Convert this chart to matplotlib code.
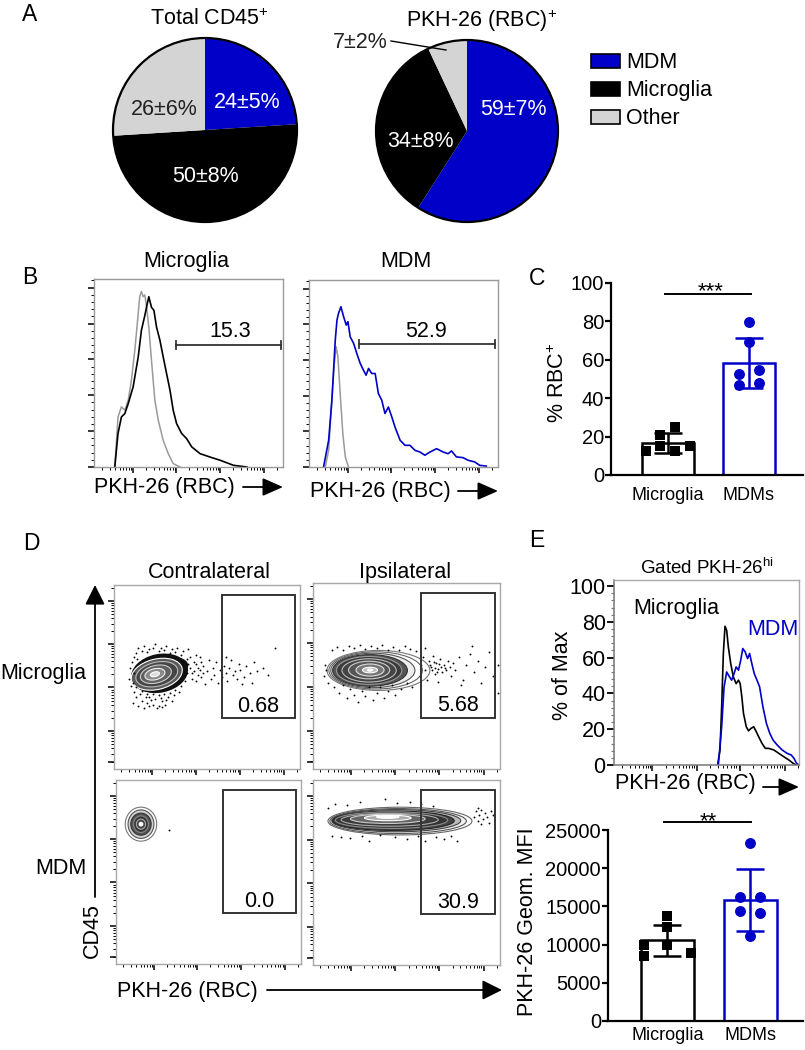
import numpy as np
import matplotlib
matplotlib.use('Agg')
import matplotlib.pyplot as plt
from matplotlib.patches import Ellipse, Rectangle, Circle

plt.rcParams['font.family'] = ['Liberation Sans', 'DejaVu Sans']
plt.rcParams['mathtext.fontset'] = 'custom'
plt.rcParams['mathtext.rm'] = 'Liberation Sans'
plt.rcParams['mathtext.it'] = 'Liberation Sans:italic'
plt.rcParams['mathtext.bf'] = 'Liberation Sans:bold'

# ---------------- data ----------------
PIE_CATEGORIES = ['MDM', 'Microglia', 'Other']
PIE1_MEAN = [24, 50, 26]
PIE1_SD = [5, 8, 6]
PIE2_MEAN = [59, 34, 7]
PIE2_SD = [7, 8, 2]

# Panel B histograms (x: % of axis width, y: % of axis height)
B1_X_BLACK = [11.0, 12.7, 14.5, 16.3, 18.1, 20.7, 23.4, 25.1, 26.9, 27.8, 29.0, 30.4, 31.7, 33.1,
              34.9, 36.6, 38.4, 40.2, 41.9, 43.7, 46.4, 49.0, 51.7, 56.1, 61.4, 66.7, 73.8, 80.9]
B1_Y_BLACK = [0, 17.8, 26.6, 28.4, 33.7, 42.6, 58.6, 72.8, 80.6, 85.0, 90.6, 85.0, 83.3, 74.4,
              67.3, 58.6, 49.7, 40.9, 30.2, 23.1, 17.8, 15.1, 10.7, 7.1, 5.3, 3.6, 0.9, 0]
B1_X_GRAY = [11.0, 12.7, 14.5, 16.3, 18.1, 19.8, 21.6, 23.4, 24.2, 25.1, 26.0, 26.9, 27.8, 29.0,
             30.4, 32.2, 34.0, 36.6, 39.3, 41.9, 45.5]
B1_Y_GRAY = [0, 26.6, 32.0, 30.2, 35.5, 46.2, 62.2, 81.7, 90.6, 93.3, 90.6, 91.5, 85.3, 74.6,
             56.8, 35.5, 24.9, 14.2, 7.1, 1.8, 0]
B2_X_BLUE = [7.7, 10.4, 12.1, 13.9, 14.8, 15.6, 16.9, 18.3, 19.7, 20.6, 21.8, 23.6, 25.3, 27.1,
             28.8, 30.2, 31.5, 33.2, 35.0, 36.7, 38.5, 40.2, 42.0, 43.8, 45.5, 48.2, 50.8, 53.4,
             56.1, 58.7, 61.3, 64.0, 67.5, 71.0, 73.6, 75.4, 78.0, 81.5, 84.2, 87.7, 90.3, 93.8]
B2_Y_BLUE = [0, 14.3, 35.7, 67.9, 78.6, 82.1, 85.7, 80.4, 75.9, 77.7, 69.6, 66.1, 60.7, 55.4,
             51.8, 49.1, 52.7, 50.0, 50.0, 39.3, 35.7, 28.6, 32.1, 26.8, 21.4, 14.3, 11.6, 11.6,
             8.9, 8.0, 6.3, 8.0, 9.8, 8.0, 7.1, 8.6, 5.4, 5.0, 3.6, 2.7, 0.9, 0.5]
B2_X_GRAY = [8.6, 10.4, 12.1, 13.4, 14.4, 15.3, 16.5, 17.9, 19.2, 20.9]
B2_Y_GRAY = [0, 8.9, 35.7, 55.4, 64.3, 58.9, 39.3, 17.9, 5.4, 0]
B_GATES = ['15.3', '52.9']

# Panel C / E bar charts
BAR_GROUPS = ['Microglia', 'MDMs']
C_MICROGLIA = [12.3, 21.0, 15.3, 24.8, 12.3, 14.9]
C_MDM = [79.5, 69.3, 52.8, 54.9, 46.9, 47.9]
E_MICROGLIA = [9921, 8523, 13724, 12325, 9921, 8960]
E_MDM = [23252, 16259, 16171, 14423, 14073, 11145]

# Panel D (axis units 0-100): contour levels (cx, cy, w, h) and events
D_GATES = ['0.68', '5.68', '0.0', '30.9']
TL_HALO = [(24.5, 52, 31, 21), (31, 55, 18, 11)]
TL_LEVELS = [(23, 51.5, 28, 16.5), (23, 51.5, 23, 13), (22.5, 51.5, 17, 9.5),
             (22, 51.5, 11, 6), (22, 51.5, 5, 2.5)]
TR_LEVELS = [(35, 53, 55, 21.5), (33.5, 53, 50, 20), (32, 53, 45, 18.5), (30.5, 53, 40, 17),
             (30, 53, 35, 15), (30, 53, 29, 12.5), (30, 53.2, 22, 9.5), (30.5, 53.2, 15, 6.5),
             (30.5, 53.2, 8, 3), (30.5, 53.2, 3, 1.2)]
BL_LEVELS = [(13.5, 76, 17, 18.5), (13.5, 76, 14, 15.5), (13.5, 76, 11, 12), (13.5, 76, 8, 9),
             (13.5, 76, 5, 5.5), (13.5, 76, 2, 2)]
BR_LEVELS = [(46.5, 77.8, 77, 15), (45.5, 77.8, 73, 13.5), (44.5, 78, 69, 12), (43, 78, 65, 10.5),
             (42, 78.3, 60, 9), (41, 78.5, 52, 7), (40, 79, 40, 5), (40, 79.5, 25, 3),
             (40, 80, 12, 1.5)]
TL_DOTS = [(10, 36), (12, 39), (13, 34), (15, 37), (16, 33), (18, 36), (19, 39), (21, 35), (22, 38),
           (24, 34), (26, 37), (27.5, 35), (29, 39), (31, 37), (11, 42), (14, 41), (9, 45),
           (13, 66), (16, 67), (19, 65), (22, 68), (25, 66), (28, 67), (31, 65), (34, 66), (37, 64),
           (40, 65), (42, 52), (43, 58), (44, 48), (45, 55), (46, 61), (47, 50), (48, 56), (49, 46),
           (50, 53), (51, 59), (52, 49), (53, 55), (54, 51), (55, 58), (56, 47), (57, 54), (58, 50),
           (59, 56), (60, 52), (61, 48), (62, 55), (63, 59), (64, 51), (65, 53), (66, 49), (67, 57),
           (68, 54), (70, 50), (71, 56), (73, 52), (75, 58), (77, 53), (80, 55), (83, 51),
           (86.6, 65.8), (69, 46), (74, 47), (60, 61), (41, 55), (42, 49), (43, 53), (44, 57),
           (45, 51), (46, 54), (47, 58), (48, 52), (41, 61), (44, 62),
           (8, 49), (8.5, 55), (9.5, 58), (10.5, 61), (12, 63), (15, 64), (18, 63.5), (21, 65.5),
           (24, 64), (27, 64.5), (30, 63), (33, 63.5), (36, 62), (39, 60), (40, 57), (39, 52),
           (38, 48), (36, 45), (33, 43), (30, 41.5), (27, 40.5), (24, 40), (21, 40.5), (18, 41),
           (15, 42.5), (12, 44.5), (10, 47), (17, 39), (20, 37.5), (25, 38.5), (28, 37.5),
           (32, 40), (35, 42), (12.5, 60), (11, 52), (23, 33), (19, 34), (26, 33.5)]
TR_DOTS = [(10, 64), (13, 65.5), (16, 64), (19, 66), (22, 65), (25, 66.5), (28, 64.5), (31, 66),
           (34, 65), (37, 66.5), (40, 64), (43, 65.5), (46, 64), (49, 66), (52, 64.5), (55, 63.5),
           (8, 46), (11, 44), (14, 41), (16, 45), (18, 38), (20, 43), (22, 40), (24, 36), (26, 42),
           (28, 39), (30, 44), (32, 37), (34, 41), (36, 44), (38, 38), (40, 42), (42, 45), (44, 40),
           (47, 43), (50, 46), (53, 44), (6, 50), (6.5, 56), (7, 53), (57, 50), (58, 56), (59, 60),
           (60, 53), (61, 48), (62, 58), (63, 55), (64, 61), (65, 51), (66, 57), (67, 54), (68, 59),
           (69, 52), (70, 56), (71, 53), (72, 58), (73, 55), (74, 50), (75, 57), (76, 53), (78, 60),
           (80, 48), (82, 56), (84, 62), (86, 52), (88, 58), (90, 46), (92, 55), (94, 63), (96, 50),
           (99, 56), (99, 41), (85, 66), (79, 45), (60, 65), (67, 47), (62.5, 56), (63.5, 53),
           (64.5, 57.5), (65.5, 54.5), (66.5, 52), (67.5, 56.5), (68.5, 55), (70.5, 54.5)]
BL_DOTS = [(28.6, 73)]
BR_DOTS = [(8, 85), (12, 87), (18, 86.5), (25, 88), (38.5, 90), (45, 87.5), (52, 88), (58, 87),
           (64, 86), (10, 70), (15, 69), (20, 68.5), (26, 70), (30, 67), (36, 70.5), (44, 69),
           (50, 68), (56, 70), (60, 67), (66, 69), (70, 68), (74, 70), (77, 67), (86, 80), (87, 83),
           (88, 78), (89, 81), (90, 84), (91, 79), (92, 82), (93, 80), (94, 77), (95, 83), (96, 81),
           (90, 76), (88, 85)]

# Panel E histogram (% of Max)
E_X_MICROGLIA = [56.0, 57.3, 58.2, 59.1, 60.0, 60.9, 61.8, 63.1, 64.5, 66.0, 67.3, 68.2, 69.1, 70.0,
                 71.5, 72.7, 74.0, 75.5, 76.9, 78.2, 80.0, 81.8, 83.6, 86.4, 89.1, 91.8, 94.5, 96.4, 98.2]
E_Y_MICROGLIA = [0, 8.4, 32.5, 62.3, 77.5, 75.3, 66.0, 56.7, 49.3, 45.5, 47.4, 45.5, 38.1, 28.8,
                 21.4, 19.1, 20.4, 21.4, 18.6, 15.8, 12.1, 9.3, 9.3, 8.4, 6.5, 4.6, 2.8, 1.3, 0]
E_X_MDM = [56.4, 58.2, 59.5, 60.9, 62.4, 63.6, 64.9, 66.0, 67.3, 68.5, 69.6, 70.9, 72.2, 73.3,
           74.5, 75.8, 77.3, 78.7, 80.5, 82.4, 84.2, 86.0, 88.2, 90.9, 93.6, 95.8, 97.3, 98.7, 100]
E_Y_MDM = [0, 21.4, 43.7, 52.0, 49.3, 47.4, 51.1, 54.8, 53.0, 58.6, 65.1, 63.2, 59.5, 62.3,
           56.7, 51.1, 47.4, 43.7, 32.5, 23.2, 17.7, 13.9, 11.2, 8.4, 6.5, 5.6, 3.7, 0.9, 0]

# ---------------- layout / style ----------------
W, H = 805, 1050
BLUE = '#0000C8'
LGRAY = '#D4D4D4'
FS = 15.5
PIE_COLORS = [BLUE, 'black', LGRAY]

fig = plt.figure(figsize=(W / 100, H / 100), dpi=100)
fig.patch.set_facecolor('white')


def rect(l, t, r, b):
    return [l / W, 1 - b / H, (r - l) / W, (b - t) / H]


ax0 = fig.add_axes([0, 0, 1, 1], zorder=20)
ax0.set_xlim(0, W)
ax0.set_ylim(H, 0)
ax0.axis('off')


def T(x, y, s, **kw):
    kw.setdefault('fontsize', FS)
    kw.setdefault('ha', 'center')
    kw.setdefault('va', 'baseline')
    ax0.text(x, y, s, **kw)


def arrow(x0, y0, x1, y1, hl=1.25, hw=0.55):
    ax0.annotate('', xy=(x1, y1), xytext=(x0, y0),
                 arrowprops=dict(arrowstyle=f'-|>,head_length={hl},head_width={hw}',
                                 mutation_scale=10, lw=1.3, color='black',
                                 shrinkA=0, shrinkB=0))


def flow_minor(decs, step):
    out = []
    for d in decs:
        for k in range(2, 10):
            v = d + step * np.log10(k)
            if v < 99.5:
                out.append(v)
    for k in range(2, 10):
        v = decs[0] - step + step * np.log10(k)
        if v > 1.5:
            out.append(v)
    return out


def style_flow(ax, frame='#9a9a9a'):
    for s in ax.spines.values():
        s.set_color(frame)
        s.set_linewidth(1.0)
    ax.tick_params(which='both', direction='out', labelbottom=False, labelleft=False,
                   color='black', top=False, right=False)
    ax.tick_params(which='major', length=4, width=1.1)
    ax.tick_params(which='minor', length=2.2, width=0.7)


# panel letters
for x, y, s in [(30, 21, 'A'), (30, 284, 'B'), (537, 285, 'C'), (31, 550, 'D'), (537, 547, 'E')]:
    T(x, y, s, fontsize=16.5)

# ---------------- Panel A ----------------
def draw_pie(cx, cy, r, values):
    ax = fig.add_axes(rect(cx - r * 1.03, cy - r * 1.03, cx + r * 1.03, cy + r * 1.03))
    ax.pie(values, colors=PIE_COLORS, startangle=90, counterclock=False, radius=1.0,
           wedgeprops=dict(linewidth=0))
    ax.add_patch(Circle((0, 0), 1.0, fill=False, ec='black', lw=1.6))
    ax.set_xlim(-1.03, 1.03)
    ax.set_ylim(-1.03, 1.03)
    ax.set_aspect('equal')
    ax.axis('off')


draw_pie(205, 130, 92, PIE1_MEAN)
draw_pie(467, 131, 91, PIE2_MEAN)
T(209, 25, 'Total CD45$^{+}$')
T(482, 27, 'PKH-26 (RBC)$^{+}$')

PIE1_LABEL_XY = [(247, 108), (205, 182), (164, 115)]
PIE1_LABEL_C = ['white', 'white', '#222222']
for (x, y), m, sd, c in zip(PIE1_LABEL_XY, PIE1_MEAN, PIE1_SD, PIE1_LABEL_C):
    T(x, y, f'{m}\u00b1{sd}%', color=c)
PIE2_LABEL_XY = [(513, 115), (420, 147), (360, 48)]
PIE2_LABEL_C = ['white', 'white', '#222222']
for (x, y), m, sd, c in zip(PIE2_LABEL_XY, PIE2_MEAN, PIE2_SD, PIE2_LABEL_C):
    T(x, y, f'{m}\u00b1{sd}%', color=c)
ax0.plot([391, 446], [41, 50], color='black', lw=1.0)

for i, (cat, col) in enumerate(zip(PIE_CATEGORIES, PIE_COLORS)):
    ax0.add_patch(Rectangle((591, 54 + 28 * i), 29, 14, facecolor=col, edgecolor='black', lw=1.2))
    T(626, 68 + 28 * i, cat, ha='left')

# ---------------- Panel B ----------------
B_XDEC = [20.6, 43.4, 66.7, 90.0]
B_YSTEP = 19.08


def hist_axes(l, t, r, b):
    ax = fig.add_axes(rect(l, t, r, b))
    ax.set_xlim(0, 100)
    ax.set_ylim(0, 100)
    ax.set_xticks(B_XDEC)
    ax.set_xticks(flow_minor(B_XDEC, 23.3), minor=True)
    ax.set_yticks(np.arange(0, 100, B_YSTEP))
    ax.set_yticks(np.arange(0, 100, B_YSTEP / 5), minor=True)
    style_flow(ax)
    return ax


axb1 = hist_axes(94, 279, 283, 467)
axb1.plot(B1_X_GRAY, B1_Y_GRAY, color='#9a9a9a', lw=1.1)
axb1.plot(B1_X_BLACK, B1_Y_BLACK, color='black', lw=1.2)
axb1.plot([43.3, 98.9], [64.9, 64.9], color='#333333', lw=1.3)
for xx in [43.3, 98.9]:
    axb1.plot([xx, xx], [62.9, 66.9], color='#333333', lw=1.3)
axb1.text(72, 69.1, B_GATES[0], fontsize=FS, ha='center', va='baseline')

axb2 = hist_axes(309, 280, 498, 467)
axb2.plot(B2_X_GRAY, B2_Y_GRAY, color='#9a9a9a', lw=1.1)
axb2.plot(B2_X_BLUE, B2_Y_BLUE, color=BLUE, lw=1.2)
axb2.plot([26.5, 98.4], [65.8, 65.8], color='#333333', lw=1.3)
for xx in [26.5, 98.4]:
    axb2.plot([xx, xx], [63.8, 67.8], color='#333333', lw=1.3)
axb2.text(61.9, 69.5, B_GATES[1], fontsize=FS, ha='center', va='baseline')

T(186, 267, 'Microglia')
T(406, 267, 'MDM')
T(94, 493, 'PKH-26 (RBC)', ha='left')
arrow(243, 487, 283, 487)
T(310, 497, 'PKH-26 (RBC)', ha='left')
arrow(458, 491, 498, 491)


# ---------------- Bar charts (C and E bottom) ----------------
def bar_panel(ax, data, jit, ylim, yticks):
    colors = ['black', BLUE]
    markers = ['s', 'o']
    sizes = [52, 62]
    for i, (vals, j) in enumerate(zip(data, jit)):
        m = np.mean(vals)
        sd = np.std(vals, ddof=1)
        ax.bar(i, m, width=0.64, facecolor='white', edgecolor=colors[i], linewidth=1.8, zorder=1)
        ax.errorbar(i, m, yerr=sd, color=colors[i], capsize=10, capthick=1.8, elinewidth=1.8,
                    zorder=2)
        ax.scatter(i + np.array(j), vals, marker=markers[i], s=sizes[i], color=colors[i],
                   zorder=3, linewidths=0)
    ax.set_ylim(*ylim)
    ax.set_yticks(yticks)
    ax.set_xticks([0, 1])
    ax.set_xticklabels(BAR_GROUPS)
    for s in ['top', 'right']:
        ax.spines[s].set_visible(False)
    for s in ['left', 'bottom']:
        ax.spines[s].set_linewidth(1.6)
    ax.tick_params(axis='y', length=4, width=1.6, pad=1, labelsize=14.5)
    ax.tick_params(axis='x', length=0, labelsize=13)
    ax.set_facecolor('none')


axc = fig.add_axes(rect(611, 283, 803, 475))
axc.set_xlim(-0.704, 1.667)
C_JIT = [[-0.27, -0.1, -0.1, 0.09, 0.09, 0.27], [0, 0, -0.12, 0.12, -0.12, 0.12]]
bar_panel(axc, [C_MICROGLIA, C_MDM], C_JIT, (0, 100), np.arange(0, 101, 20))
axc.tick_params(axis='x', pad=9)
axc.plot([-0.04, 1.02], [94.3, 94.3], color='black', lw=1.4, clip_on=False)
T(711, 297, '***', fontsize=16)
T(558, 383, '% RBC$^{+}$', rotation=90, va='center')

axe2 = fig.add_axes(rect(608, 830, 803, 1021))
axe2.set_xlim(-0.72, 1.64)
E_JIT = [[-0.28, -0.28, 0, 0, 0, 0.28], [0, -0.12, 0.12, -0.12, 0.12, 0]]
bar_panel(axe2, [E_MICROGLIA, E_MDM], E_JIT, (0, 25000), np.arange(0, 25001, 5000))
axe2.tick_params(axis='x', pad=4)
axe2.plot([-0.04, 1.01], [26047, 26047], color='black', lw=1.4, clip_on=False)
T(708, 827, '**', fontsize=16)
T(527, 922, 'PKH-26 Geom. MFI', rotation=90, va='center')

# ---------------- Panel D ----------------
D_XDEC = [20.4, 44.0, 67.6, 91.2]
D_YDEC = [20.5, 44.3, 67.8, 91.3]


def dot_axes(l, t, r, b):
    ax = fig.add_axes(rect(l, t, r, b))
    ax.set_xlim(0, 100)
    ax.set_ylim(0, 100)
    ax.set_xticks(D_XDEC)
    ax.set_xticks(flow_minor(D_XDEC, 23.5), minor=True)
    ax.set_yticks([3.8] + D_YDEC)
    ax.set_yticks(flow_minor(D_YDEC, 23.5), minor=True)
    style_flow(ax, frame='#a8a8a8')
    return ax


def contours(ax, levels, faces, edges, angle):
    for (cx, cy, w, h), fc, ec in zip(levels, faces, edges):
        ax.add_patch(Ellipse((cx, cy), w, h, angle=angle, facecolor=fc, edgecolor=ec, lw=0.8,
                             zorder=2))


def dots(ax, pts):
    xs, ys = zip(*pts)
    ax.scatter(xs, ys, s=1.8, color='black', linewidths=0, zorder=3)


def gate(ax, label):
    ax.add_patch(Rectangle((58, 27.5), 39.5, 67, fill=False, edgecolor='#333333', lw=1.4, zorder=4))
    ax.text(77.7, 31, label, fontsize=FS, ha='center', va='baseline', zorder=5)


axd1 = dot_axes(114, 585, 300, 769)
contours(axd1, TL_HALO, ['#111111', '#111111'], ['none', 'none'], 12)
dots(axd1, TL_DOTS)
contours(axd1, TL_LEVELS, ['#5a5a5a', '#454545', '#606060', '#8a8a8a', '#dddddd'],
         ['white', '#bbbbbb', '#cccccc', '#eeeeee', 'white'], 14)
gate(axd1, D_GATES[0])

axd2 = dot_axes(313, 583, 500, 769)
dots(axd2, TR_DOTS)
contours(axd2, TR_LEVELS,
         ['white', 'white', '#eeeeee', '#555555', '#3a3a3a', '#444444', '#555555', '#777777',
          '#bbbbbb', 'white'],
         ['#777777', '#666666', '#555555', '#333333', '#999999', '#bbbbbb', '#cccccc', '#dddddd',
          'white', 'white'], 0)
gate(axd2, D_GATES[1])

axd3 = dot_axes(116, 780, 301, 964)
dots(axd3, BL_DOTS)
contours(axd3, BL_LEVELS, ['white', '#cfcfcf', '#555555', '#333333', '#444444', 'white'],
         ['#777777', '#555555', '#333333', '#888888', '#aaaaaa', 'white'], 0)
gate(axd3, D_GATES[2])

axd4 = dot_axes(313, 780, 500, 965)
dots(axd4, BR_DOTS)
contours(axd4, BR_LEVELS,
         ['white', '#f0f0f0', '#bbbbbb', '#444444', '#333333', '#3a3a3a', '#666666', '#aaaaaa',
          'white'],
         ['#666666', '#555555', '#444444', '#222222', '#888888', '#aaaaaa', '#cccccc', 'white',
          'white'], 0)
gate(axd4, D_GATES[3])

T(209, 578, 'Contralateral')
T(405, 578, 'Ipsilateral')
T(86, 679, 'Microglia', ha='right')
T(86, 874, 'MDM', ha='right')
arrow(95, 897, 95, 585, hl=1.2, hw=0.6)
T(92, 931, 'CD45', rotation=90, va='center')
T(117, 997, 'PKH-26 (RBC)', ha='left')
arrow(267, 990, 502, 990, hl=1.2, hw=0.6)

# ---------------- Panel E top ----------------
axe1 = fig.add_axes(rect(614, 580, 799, 765))
axe1.set_xlim(0, 100)
axe1.set_ylim(0, 103.4)
axe1.plot(E_X_MICROGLIA, E_Y_MICROGLIA, color='black', lw=1.2)
axe1.plot(E_X_MDM, E_Y_MDM, color=BLUE, lw=1.2)
E_XDEC = [20.8, 44.8, 68.3, 92.3]
axe1.set_xticks(E_XDEC)
axe1.set_xticks(flow_minor(E_XDEC, 23.6), minor=True)
axe1.set_yticks(np.arange(0, 101, 20))
axe1.set_yticks(np.arange(0, 103, 4), minor=True)
for s in ['top', 'right']:
    axe1.spines[s].set_color('#aaaaaa')
    axe1.spines[s].set_linewidth(1.0)
for s in ['left', 'bottom']:
    axe1.spines[s].set_color('#777777')
    axe1.spines[s].set_linewidth(1.1)
axe1.tick_params(axis='x', which='both', direction='out', labelbottom=False)
axe1.tick_params(axis='x', which='major', length=4, width=1.1)
axe1.tick_params(axis='x', which='minor', length=2.2, width=0.7)
axe1.tick_params(axis='y', which='major', length=5, width=1.3, pad=1, labelsize=15.5)
axe1.tick_params(axis='y', which='minor', length=2.5, width=0.8, color='#777777')
axe1.set_facecolor('none')
T(707, 574, 'Gated PKH-26$^{\\mathrm{hi}}$', fontsize=13.5)
T(633, 614, 'Microglia', ha='left')
T(747, 635, 'MDM', ha='left', color=BLUE)
T(562, 675, '% of Max', rotation=90, va='center')
T(615, 789, 'PKH-26 (RBC)', ha='left')
arrow(763, 787, 799, 787)

fig.savefig('out.png', dpi=100)
